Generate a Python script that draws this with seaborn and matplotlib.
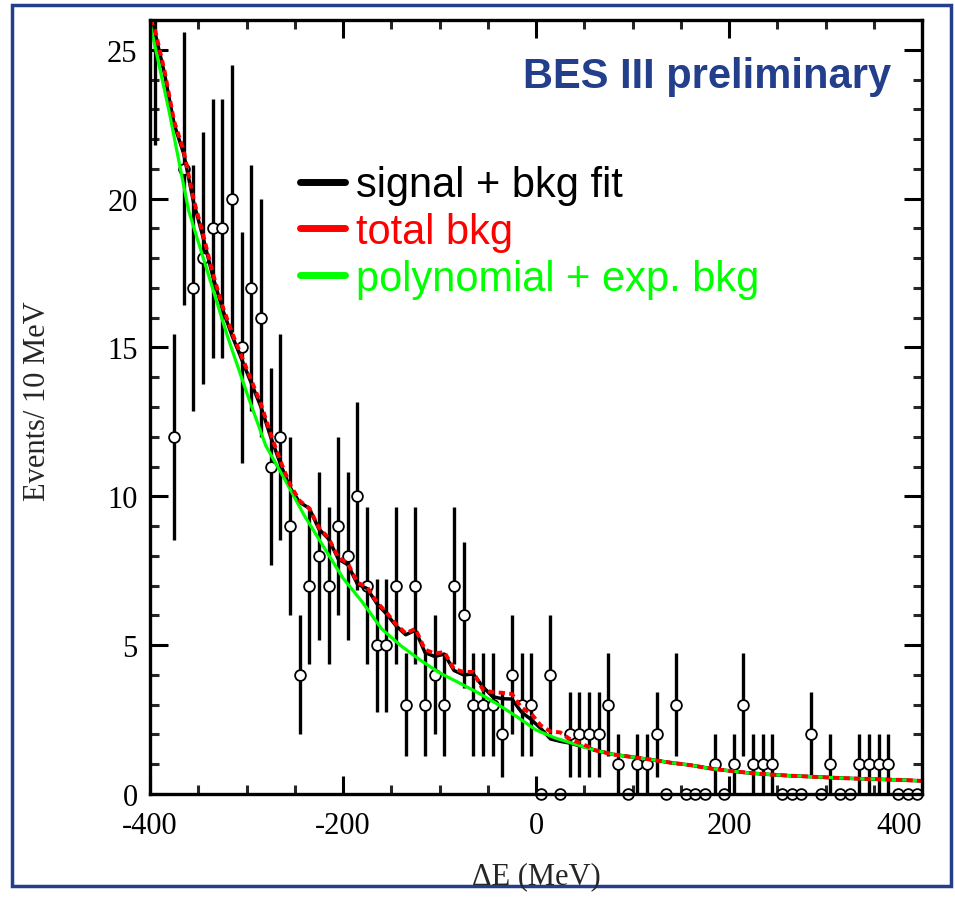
import numpy as np
import pandas as pd
import matplotlib
matplotlib.use("Agg")
import matplotlib.pyplot as plt
import seaborn as sns
from matplotlib.lines import Line2D
from matplotlib.patches import Rectangle
from matplotlib.ticker import MultipleLocator

# ---------------- data ----------------
bin_centers = list(range(-395, 400, 10))
counts = [27, 32, 12, 21, 17, 18, 19, 19, 20, 15,
          17, 16, 11, 12, 9, 4, 7, 8, 7, 9,
          8, 10, 7, 5, 5, 7, 3, 7, 3, 4,
          3, 7, 6, 3, 3, 3, 2, 4, 3, 3,
          0, 4, 0, 2, 2, 2, 2, 3, 1, 0,
          1, 1, 2, 0, 3, 0, 0, 0, 1, 0,
          1, 3, 1, 1, 1, 0, 0, 0, 2, 0,
          1, 0, 0, 1, 1, 1, 1, 0, 0, 0]

# polynomial + exp. background (green)
bkg_x = [-400, -380, -360, -340, -320, -300, -280, -260, -240, -220,
         -200, -180, -160, -140, -120, -100, -80, -60, -40, -20,
         0, 20, 40, 60, 80, 100, 120, 140, 160, 180,
         200, 220, 240, 260, 280, 300, 320, 340, 360, 380, 400]
bkg_y = [25.9, 22.9, 19.6, 17.5, 15.4, 13.5, 11.7, 10.55, 9.35, 8.3,
         7.25, 6.45, 5.55, 4.98, 4.5, 4.07, 3.74, 3.4, 3.02, 2.6,
         2.15, 1.88, 1.68, 1.48, 1.33, 1.24, 1.15, 1.05, 0.97, 0.86,
         0.78, 0.71, 0.66, 0.62, 0.59, 0.56, 0.53, 0.51, 0.49, 0.47, 0.44]

# signal + bkg fit (black) and total bkg (red), evaluated at bin centres
fit_x = [-400, -395, -385, -375, -365, -355, -345, -335, -325, -315, -305,
         -295, -285, -275, -265, -255, -245, -235, -225, -215, -205,
         -195, -185, -175, -165, -155, -145, -135, -125, -115, -105,
         -95, -85, -75, -65, -55, -45, -35, -25, -15, -5,
         5, 15, 25, 35, 45, 55]
sig_bkg_y = [26.0, 25.6, 24.2, 22.5, 21.5, 19.9, 18.7, 17.4, 16.3, 15.4, 14.6,
             13.8, 13.0, 12.0, 11.1, 10.3, 9.8, 9.6, 8.9, 8.57, 7.9,
             7.7, 7.05, 6.9, 6.4, 6.05, 5.65, 5.35, 5.5, 4.75, 4.62,
             4.7, 4.15, 4.0, 4.03, 3.6, 3.27, 3.2, 3.19, 2.75, 2.5,
             2.2, 1.85, 1.77, 1.71, 1.62, 1.55]
tot_bkg_y = [26.0, 25.7, 24.3, 22.6, 21.6, 20.0, 18.8, 17.5, 16.4, 15.5, 14.7,
             13.9, 13.1, 12.1, 11.2, 10.4, 9.85, 9.6, 8.95, 8.6, 7.95,
             7.75, 7.1, 6.95, 6.45, 6.1, 5.7, 5.4, 5.55, 4.85, 4.72,
             4.77, 4.2, 4.1, 4.1, 3.5, 3.42, 3.4, 3.36, 2.9, 2.7,
             2.3, 2.1, 2.07, 1.85, 1.72, 1.58]

legend_labels = ["signal + bkg fit", "total bkg", "polynomial + exp. bkg"]
legend_colors = ["#000000", "#ff0000", "#00ff00"]
x_ticks = [-400, -200, 0, 200, 400]
y_ticks = [0, 5, 10, 15, 20, 25]

# ---------------- frames ----------------
data = pd.DataFrame({"x": bin_centers, "n": counts})
data["err"] = np.sqrt(data["n"])
bkg = pd.DataFrame({"x": bkg_x, "y": bkg_y})
tail = bkg[bkg["x"] >= 60]
fit_black = pd.concat([pd.DataFrame({"x": fit_x, "y": sig_bkg_y}), tail], ignore_index=True)
fit_red = pd.concat([pd.DataFrame({"x": fit_x, "y": tot_bkg_y}), tail], ignore_index=True)

sns.set_theme(style="ticks")
plt.rcParams["font.family"] = ["Liberation Serif", "DejaVu Serif"]
plt.rcParams["axes.unicode_minus"] = False
plt.rcParams["axes.linewidth"] = 2.4

fig = plt.figure(figsize=(9.55, 9.03), dpi=100)
ax = fig.add_axes([150 / 955, 1 - 795 / 903, 772 / 955, 774 / 903])

# error bars
nz = data[data["n"] > 0]
ax.vlines(nz["x"], nz["n"] - nz["err"], nz["n"] + nz["err"],
          color="black", lw=2.4, zorder=2)

# markers (those inside the range, drawn unclipped so the zero ones show fully)
vis = data[data["n"] <= 26]
sns.scatterplot(data=vis, x="x", y="n", ax=ax, marker="o", s=60,
                facecolor="white", edgecolor="black", linewidth=1.3,
                zorder=3, legend=False)
for coll in ax.collections[1:]:
    coll.set_clip_on(False)

# curves
sns.lineplot(data=fit_black, x="x", y="y", ax=ax, color="black", lw=2.5,
             sort=False, estimator=None, zorder=4)
sns.lineplot(data=bkg, x="x", y="y", ax=ax, color="#00ff00", lw=2.3,
             sort=False, estimator=None, zorder=5)
sns.lineplot(data=fit_red, x="x", y="y", ax=ax, color="#ff0000", lw=2.8,
             sort=False, estimator=None, zorder=6, linestyle=(0, (1.6, 1.1)))

ax.set_xlim(-400, 400)
ax.set_ylim(0, 26)
ax.set_xticks(x_ticks)
ax.set_yticks(y_ticks)
ax.xaxis.set_minor_locator(MultipleLocator(50))
ax.yaxis.set_minor_locator(MultipleLocator(1))
ax.tick_params(which="major", direction="in", length=13, width=2.2,
               top=True, right=True, labelsize=22, colors="black")
ax.tick_params(axis="x", which="major", pad=12)
ax.tick_params(axis="y", which="major", pad=9)
ax.tick_params(which="minor", direction="in", length=6.5, width=2.2,
               top=True, right=True)
ax.xaxis.get_major_ticks()[-1].label1.set_horizontalalignment("right")
ax.set_xlabel("")
ax.set_ylabel("")
for sp in ax.spines.values():
    sp.set_linewidth(2.4)
    sp.set_color("black")
    sp.set_zorder(10)

# legend
handles = [Line2D([], [], color=c, lw=5) for c in legend_colors]
leg = ax.legend(handles, legend_labels, loc="center left",
                bbox_to_anchor=(150 / 772, (795 - 233) / 774),
                frameon=False, handlelength=1.08, handletextpad=0.26,
                labelspacing=0.16, borderpad=0, borderaxespad=0,
                prop={"family": "Liberation Sans", "size": 30})
for t, c in zip(leg.get_texts(), legend_colors):
    t.set_color(c)

# texts
fig.text(891 / 955, 1 - 88 / 903, "BES III preliminary", ha="right", va="baseline",
         fontsize=30, fontweight="bold", color="#233e8b", family="Liberation Sans")
fig.text(536 / 955, 1 - 877 / 903, "ΔE (MeV)", ha="center", va="center", fontsize=22)
fig.text(38 / 955, 1 - 401 / 903, "Events/ 10 MeV", ha="center", va="center",
         rotation=90, fontsize=22)

# outer frame
fig.patches.append(Rectangle((12 / 955, 1 - 887 / 903), (951 - 12) / 955, (887 - 6) / 903,
                             transform=fig.transFigure, fill=False,
                             edgecolor="#233e8b", lw=2.5))

fig.savefig("out.png", dpi=100)
